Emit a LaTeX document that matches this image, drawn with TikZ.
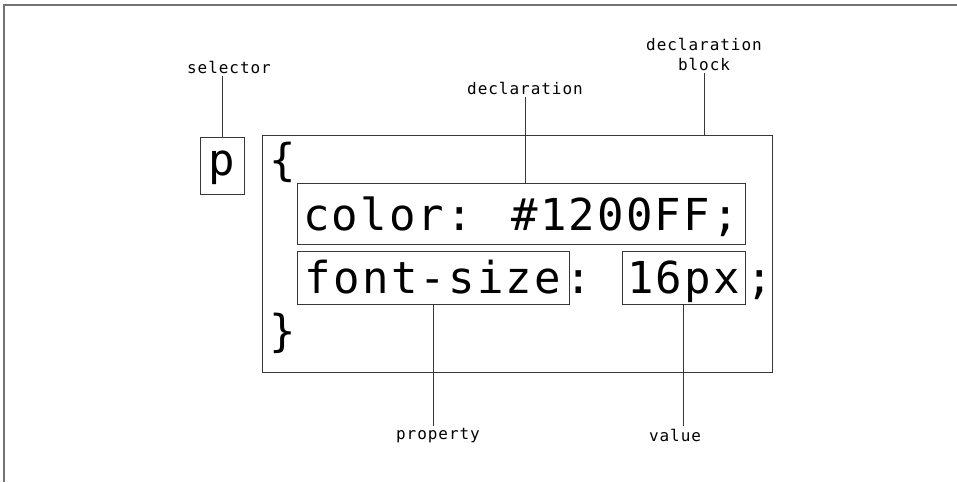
\documentclass[tikz,border=0pt]{standalone}
\usepackage{fontspec}
\newfontfamily\codefont[LetterSpace=5]{DejaVu Sans Mono}
\newfontfamily\labfont[LetterSpace=6]{DejaVu Sans Mono}
\definecolor{linecol}{RGB}{55,55,55}
\definecolor{framecol}{RGB}{115,115,115}
\begin{document}
\begin{tikzpicture}[x=1pt,y=-1pt,
  code/.style={font=\codefont\fontsize{44}{44}\selectfont, inner sep=0pt, anchor=base, text=black},
  codebox/.style={code, draw=linecol, line width=1pt},
  lab/.style={font=\labfont\fontsize{16}{20}\selectfont, align=center, inner sep=3pt, text=black},
  conn/.style={draw=linecol, line width=1pt}]
\useasboundingbox (0,0) rectangle (957,482);
% frame
\draw[framecol, line width=1.5pt] (4,482) -- (4,5) -- (957,5);
% selector
\node[codebox, minimum width=44pt, text height=38pt, text depth=19pt] (p) at (222,175) {p};
\node[lab] (sel) at (229,67) {selector};
\draw[conn] (p.north) -- (p.north |- sel.south);
% declaration block
\node[draw=linecol, line width=1pt, minimum width=510pt, minimum height=237pt, inner sep=0pt] (block) at (517,253.5) {};
\node[lab] (blab) at (704,54) {declaration\\block};
\draw[conn] (blab.south) -- (blab.south |- block.north);
% braces
\node[code] (ob) at (283,175) {\{};
\node[code] (cb) at (283,346) {\}};
% declaration
\node[codebox, minimum width=448pt, text height=47pt, text depth=14pt] (decl) at (521,230) {color: \#1200FF;};
\node[lab] (dlab) at (525,88) {declaration};
\draw[conn] (dlab.south) -- (dlab.south |- decl.north);
% property / value
\node[codebox, minimum width=272pt, text height=42pt, text depth=11pt] (prop) at (433,293) {font-size};
\node[code] (colon) at (579,293) {:};
\node[codebox, minimum width=123pt, text height=42pt, text depth=11pt] (val) at (683.5,293) {16px};
\node[code] (semi) at (760,293) {;};
\node[lab] (plab) at (438,436) {property};
\node[lab] (vlab) at (675,435) {value};
\draw[conn] (prop.south) -- (prop.south |- plab.north);
\draw[conn] (val.south) -- (val.south |- vlab.north);
\end{tikzpicture}
\end{document}
